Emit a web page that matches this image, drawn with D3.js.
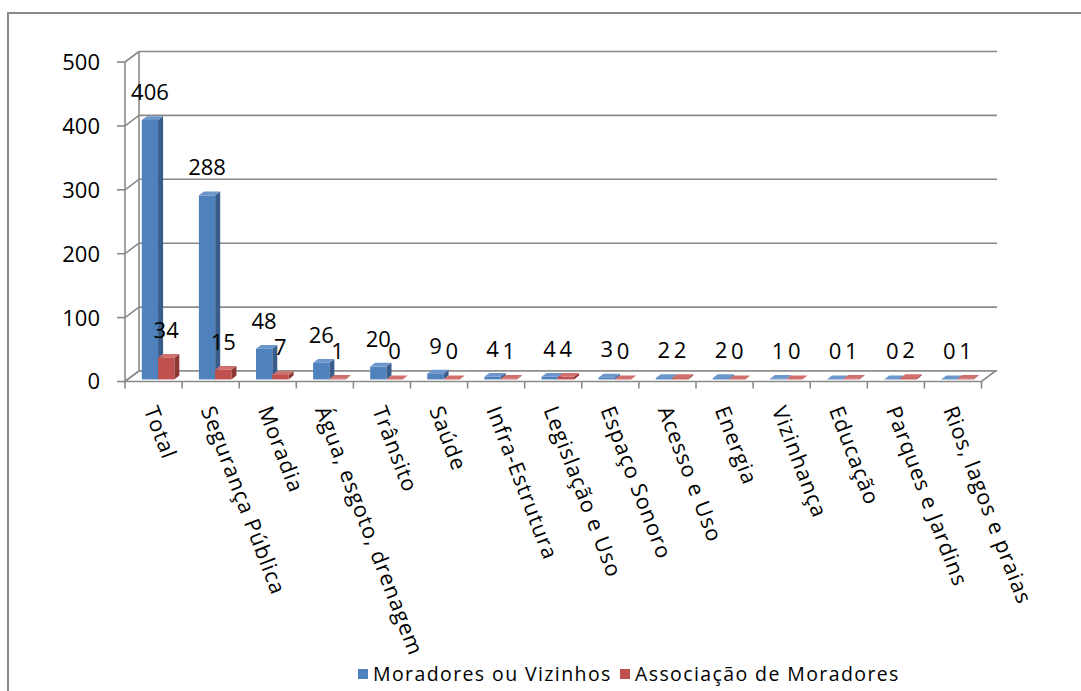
<!DOCTYPE html>
<html>
<head>
<meta charset="utf-8">
<script src="https://cdn.jsdelivr.net/npm/d3@7"></script>
<style>
  body { margin: 0; background: #fff; }
  svg text { font-family: "Open Sans", Lato, sans-serif; fill: #000; }
</style>
</head>
<body>
<div id="chart"></div>
<script>
// chart values
const categories = ["Total", "Segurança Pública", "Moradia", "Água, esgoto, drenagem", "Trânsito",
    "Saúde", "Infra-Estrutura", "Legislação e Uso", "Espaço Sonoro", "Acesso e Uso",
    "Energia", "Vizinhança", "Educação", "Parques e Jardins", "Rios, lagos e praias"];
const seriesNames = ["Moradores ou Vizinhos", "Associação de Moradores"];
const moradores = [406, 288, 48, 26, 20, 9, 4, 4, 3, 2, 2, 1, 0, 0, 0];
const associacao = [34, 15, 7, 1, 0, 0, 1, 4, 0, 2, 0, 0, 1, 2, 1];
const yTicks = [0, 100, 200, 300, 400, 500];

const width = 1081, height = 691;
const gridColor = "#8a8a8a";
const colors = {
    "Moradores ou Vizinhos": { front: "#4f81bd", side: "#385d8a", top: "#6c97cc" },
    "Associação de Moradores": { front: "#c0504d", side: "#8c3836", top: "#d16f6c" }
};

// 3D depth vector of the floor / walls
const DX = 14, DY = -10.5;
// bars sit between these depth fractions
const zFront = 0.2, zBack = 0.56;

const svg = d3.select("#chart").append("svg")
    .attr("width", width)
    .attr("height", height);

// outer frame (only top and left are in view)
svg.append("path")
    .attr("d", `M8,${height} L8,13 L${width},13`)
    .attr("fill", "none")
    .attr("stroke", gridColor)
    .attr("stroke-width", 2);

const y = d3.scaleLinear().domain([0, 500]).range([381.5, 62]);
const x0 = d3.scaleBand().domain(categories).range([125, 981.5]);
const x1 = d3.scaleBand().domain(seriesNames).range([14, 46.5]);

const g = svg.append("g");

// back wall gridlines
g.selectAll(".grid")
    .data(yTicks)
    .enter().append("line")
    .attr("class", "grid")
    .attr("x1", 125 + DX).attr("x2", 983 + DX)
    .attr("y1", d => y(d) + DY).attr("y2", d => y(d) + DY)
    .attr("stroke", gridColor).attr("stroke-width", 1.6);

// side wall lines
g.selectAll(".side")
    .data(yTicks)
    .enter().append("line")
    .attr("class", "side")
    .attr("x1", 125).attr("x2", 125 + DX)
    .attr("y1", d => y(d)).attr("y2", d => y(d) + DY)
    .attr("stroke", gridColor).attr("stroke-width", 1.6);

g.append("line")
    .attr("x1", 125 + DX).attr("x2", 125 + DX)
    .attr("y1", y(0) + DY).attr("y2", y(500) + DY)
    .attr("stroke", gridColor).attr("stroke-width", 1.6);

// floor
const x0s = 125, x0e = 981.5;
g.append("path")
    .attr("d", `M${x0s},${y(0)} L${x0e},${y(0)} L${x0e + DX},${y(0) + DY} L${x0s + DX},${y(0) + DY} Z`)
    .attr("fill", "#fff")
    .attr("stroke", gridColor).attr("stroke-width", 1.6);

// front y axis with ticks
g.append("line")
    .attr("x1", 125).attr("x2", 125)
    .attr("y1", y(0)).attr("y2", y(500))
    .attr("stroke", gridColor).attr("stroke-width", 1.6);
g.selectAll(".ytick")
    .data(yTicks)
    .enter().append("line")
    .attr("x1", 117).attr("x2", 125)
    .attr("y1", d => y(d)).attr("y2", d => y(d))
    .attr("stroke", gridColor).attr("stroke-width", 1.6);
g.selectAll(".ylabel")
    .data(yTicks)
    .enter().append("text")
    .attr("x", 100)
    .attr("y", d => y(d))
    .attr("dy", "0.36em")
    .attr("text-anchor", "end")
    .attr("font-size", 22)
    .text(d => d);

// category ticks
const boundaries = categories.map(c => x0(c)).concat([x0.range()[1]]);
g.selectAll(".xtick")
    .data(boundaries)
    .enter().append("line")
    .attr("x1", d => d).attr("x2", d => d)
    .attr("y1", y(0)).attr("y2", y(0) + 7)
    .attr("stroke", gridColor).attr("stroke-width", 1.6);

// bars
const bars = [];
categories.forEach((c, i) => {
    bars.push({ cat: c, series: seriesNames[0], value: moradores[i] });
    bars.push({ cat: c, series: seriesNames[1], value: associacao[i] });
});

function barGeom(d) {
    const xl = x0(d.cat) + x1(d.series) + zFront * DX;
    const xr = xl + x1.bandwidth();
    const yb = y(0) + zFront * DY;
    const yt = y(d.value) + zFront * DY;
    const ddx = (zBack - zFront) * DX, ddy = (zBack - zFront) * DY;
    return { xl, xr, yb, yt, ddx, ddy };
}

const bar = g.selectAll(".bar")
    .data(bars)
    .enter().append("g")
    .attr("class", "bar");

bar.append("path")
    .attr("d", d => {
        const b = barGeom(d);
        return `M${b.xr},${b.yb} L${b.xr + b.ddx},${b.yb + b.ddy} L${b.xr + b.ddx},${b.yt + b.ddy} L${b.xr},${b.yt} Z`;
    })
    .attr("fill", d => colors[d.series].side);

bar.append("path")
    .attr("d", d => {
        const b = barGeom(d);
        return `M${b.xl},${b.yt} L${b.xr},${b.yt} L${b.xr + b.ddx},${b.yt + b.ddy} L${b.xl + b.ddx},${b.yt + b.ddy} Z`;
    })
    .attr("fill", d => colors[d.series].top);

bar.append("rect")
    .attr("x", d => barGeom(d).xl)
    .attr("y", d => barGeom(d).yt)
    .attr("width", x1.bandwidth())
    .attr("height", d => barGeom(d).yb - barGeom(d).yt)
    .attr("fill", d => colors[d.series].front);

// value labels
g.selectAll(".value")
    .data(bars)
    .enter().append("text")
    .attr("class", "value")
    .attr("x", d => { const b = barGeom(d); return (b.xl + b.xr) / 2; })
    .attr("y", d => barGeom(d).yt - 20)
    .attr("text-anchor", "middle")
    .attr("font-size", 22)
    .text(d => d.value);

// category labels
g.selectAll(".cat")
    .data(categories)
    .enter().append("text")
    .attr("class", "cat")
    .attr("transform", c => `translate(${x0(c) + x0.bandwidth() / 2 - 3},407) rotate(69)`)
    .attr("dy", "0.35em")
    .attr("font-size", 21.5)
    .attr("letter-spacing", 1)
    .text(c => c);

// legend
const legend = svg.append("g").attr("transform", "translate(358,674)");
const legendX = [0, 262];
seriesNames.forEach((s, i) => {
    const lg = legend.append("g").attr("transform", `translate(${legendX[i]},0)`);
    lg.append("rect")
        .attr("x", 0).attr("y", -5)
        .attr("width", 10).attr("height", 10)
        .attr("fill", colors[s].front);
    lg.append("text")
        .attr("x", 15)
        .attr("y", 0)
        .attr("dy", "0.35em")
        .attr("font-size", 19.5)
        .attr("letter-spacing", 1.4)
        .text(s);
});
</script>
</body>
</html>
